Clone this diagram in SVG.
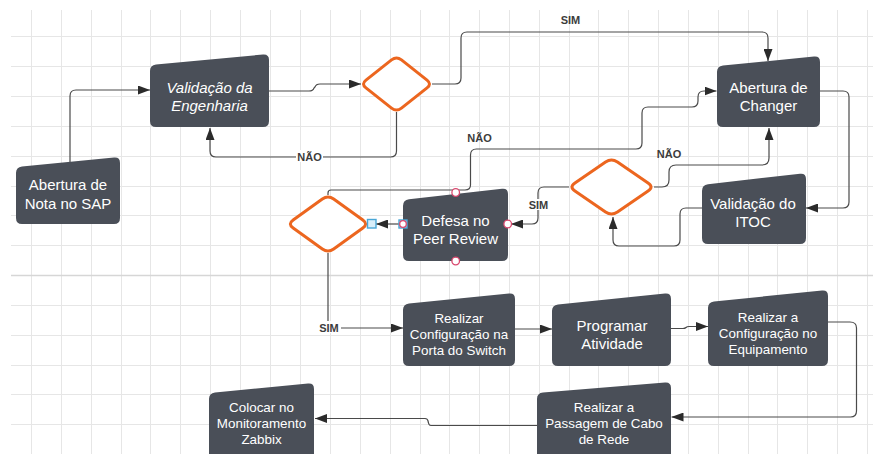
<svg xmlns="http://www.w3.org/2000/svg" width="873" height="454" viewBox="0 0 873 454">
  <defs>
    <style>
      .grid { stroke: #e6e6e6; stroke-width: 1; fill: none; }
      .grid-major { stroke: #d6d6d6; stroke-width: 1.6; fill: none; }
      .node { fill: #4a4f58; }
      .decision { fill: #ffffff; stroke: #ec661f; stroke-width: 3; stroke-linejoin: round; }
      .txt { fill: #ffffff; font-family: "Liberation Sans", Arial, sans-serif; text-anchor: middle; }
      .t15 { font-size: 15px; }
      .t13 { font-size: 13.4px; }
      .edge { fill: none; stroke: #4a4a4a; stroke-width: 1.2; marker-end: url(#arrow); }
      .lbl { fill: #3c3c3c; font-family: "Liberation Sans", Arial, sans-serif; font-weight: bold; font-size: 11px; text-anchor: middle; }
      .lbl-bg { fill: #ffffff; }
      .port { fill: #ffffff; stroke: #d9486e; stroke-width: 1.3; }
      .sel { fill: #d8eef9; stroke: #49a6d6; stroke-width: 1.4; }
    </style>
    <marker id="arrow" viewBox="0 0 12 9" refX="12" refY="4.5" markerWidth="12" markerHeight="9" markerUnits="userSpaceOnUse" orient="auto">
      <path d="M0,0 L12,4.5 L0,9 Z" fill="#2b2b2b"/>
    </marker>
  </defs>

  <rect x="0" y="0" width="873" height="454" fill="#ffffff"/>

  <!-- background grid -->
  <g id="grid">
    <path class="grid" d="M31.5,10V454 M61.5,10V454 M91.5,10V454 M121.5,10V454 M150.5,10V454 M180.5,10V454 M210.5,10V454 M240.5,10V454 M270.5,10V454 M300.5,10V454 M330.5,10V454 M360.5,10V454 M390.5,10V454 M420.5,10V454 M449.5,10V454 M479.5,10V454 M509.5,10V454 M539.5,10V454 M569.5,10V454 M598.5,10V454 M628.5,10V454 M658.5,10V454 M688.5,10V454 M718.5,10V454 M748.5,10V454 M777.5,10V454 M807.5,10V454 M837.5,10V454 M867.5,10V454"/>
    <path class="grid" d="M11,36.5H873 M11,66.5H873 M11,96.5H873 M11,126.5H873 M11,156.5H873 M11,186.5H873 M11,215.5H873 M11,245.5H873 M11,305.5H873 M11,335.5H873 M11,365.5H873 M11,394.5H873 M11,424.5H873"/>
    <path class="grid-major" d="M11,275.5H873"/>
  </g>

  <!-- connectors -->
  <g id="connectors">
    <path class="edge" d="M70,162 L70,96 Q70,90 76,90 L150,90"/>
    <path class="edge" d="M269,91 L309,91 Q313,91 314,88 L315,87 Q316,84 320,84 L361,84"/>
    <path class="edge" d="M432,84 L455,84 Q461,84 461,78 L461,38 Q461,32 467,32 L762,32 Q768,32 768,38 L768,61"/>
    <path class="edge" d="M396.5,112 L396.5,151 Q396.5,157 390.5,157 L216,157 Q210,157 210,151 L210,128"/>
    <path class="edge" d="M328,195 L328,193 Q328,190 331,190 L465,190 Q470.5,190 470.5,185 L470.5,155 Q470.5,149 476.5,149 L636,149 Q642,149 642,143 L642,113 Q642,107 648,107 L692,107 Q698,107 698,101 L698,97 Q698,91 704,91 L716.5,91"/>
    <path class="edge" d="M654,187 L662,187 Q669,187 669,180 L669,172 Q669,165 676,165 L762,165 Q769,165 769,158 L769,128"/>
    <path class="edge" d="M820,91 L843,91 Q849,91 849,97 L849,202 Q849,208 843,208 L806,208"/>
    <path class="edge" d="M702,208 L686,208 Q680,208 680,214 L680,240 Q680,246 674,246 L619,246 Q613,246 613,240 L613,217"/>
    <path class="edge" d="M569,187 L544,187 Q538,187 538,193 L538,218 Q538,224 532,224 L511,224"/>
    <path class="edge" d="M403,224 L376,224"/>
    <path class="edge" d="M328,253 L328,322 Q328,328 334,328 L403,328"/>
    <path class="edge" d="M515,329 L552,329"/>
    <path class="edge" d="M671,328.5 L683,328.5 Q685,328.5 686,327.5 Q687,326.5 689,326.5 L708,326.5"/>
    <path class="edge" d="M828,322 L850,322 Q856.5,322 856.5,328 L856.5,411 Q856.5,417 850.5,417 L671.5,417"/>
    <path class="edge" d="M537,425.5 L431,425.5 Q429,425.5 428.5,423 L428,421 Q427.5,418.5 425,418.5 L315,418.5"/>

    <!-- connector labels -->
    <text class="lbl" x="570.5" y="24">SIM</text>
    <rect class="lbl-bg" x="296" y="150" width="27" height="12"/>
    <text class="lbl" x="309.5" y="160.5">NÃO</text>
    <text class="lbl" x="479.5" y="142">NÃO</text>
    <text class="lbl" x="669" y="157.5">NÃO</text>
    <rect class="lbl-bg" x="527" y="199" width="23" height="11"/>
    <text class="lbl" x="538.5" y="208.5">SIM</text>
    <rect class="lbl-bg" x="317" y="321" width="24" height="12"/>
    <text class="lbl" x="329" y="332">SIM</text>
  </g>

  <!-- process steps -->
  <g id="validacao-engenharia">
    <path class="node" d="M150,71 Q150,65 156,64.4 L263,54.5 Q269,54 269,60 L269,121 Q269,127 263,127 L156,127 Q150,127 150,121 Z"/>
    <text class="txt t15" font-style="italic" x="209.5" y="93">Validação da</text>
    <text class="txt t15" font-style="italic" x="209.5" y="111">Engenharia</text>
  </g>

  <g id="abertura-nota-sap">
    <path class="node" d="M16,173 Q16,167 22,166.4 L114,157.6 Q120,157 120,163 L120,218 Q120,224 114,224 L22,224 Q16,224 16,218 Z"/>
    <text class="txt t15" x="68" y="190">Abertura de</text>
    <text class="txt t15" x="68" y="208.5">Nota no SAP</text>
  </g>

  <g id="abertura-changer">
    <path class="node" d="M717,72 Q717,66 723,65.4 L814,56.6 Q820,56 820,62 L820,121 Q820,127 814,127 L723,127 Q717,127 717,121 Z"/>
    <text class="txt t15" x="768.5" y="92.5">Abertura de</text>
    <text class="txt t15" x="768.5" y="110.5">Changer</text>
  </g>

  <g id="validacao-itoc">
    <path class="node" d="M702,191 Q702,185 708,184.3 L800,173.7 Q806,173 806,179 L806,238 Q806,244 800,244 L708,244 Q702,244 702,238 Z"/>
    <text class="txt t15" x="753" y="208.5">Validação do</text>
    <text class="txt t15" x="753" y="227">ITOC</text>
  </g>

  <g id="defesa-peer-review">
    <path class="node" d="M403,206 Q403,200 409,199.3 L502,188.7 Q508,188 508,194 L508,255 Q508,261 502,261 L409,261 Q403,261 403,255 Z"/>
    <text class="txt t15" x="455.5" y="225.7">Defesa no</text>
    <text class="txt t15" x="455.5" y="243.5">Peer Review</text>
    <circle class="port" cx="455.7" cy="192.5" r="3.8"/>
    <circle class="port" cx="455.7" cy="261" r="3.8"/>
    <circle class="port" cx="507.7" cy="224" r="3.8"/>
    <rect class="sel" x="399" y="220" width="8" height="8"/>
    <circle class="port" cx="403" cy="224" r="3.3"/>
  </g>

  <g id="config-porta-switch">
    <path class="node" d="M403,310 Q403,304 409,303.4 L509,293.6 Q515,293 515,299 L515,360 Q515,366 509,366 L409,366 Q403,366 403,360 Z"/>
    <text class="txt t13" x="459" y="322.7">Realizar</text>
    <text class="txt t13" x="459" y="339">Configuração na</text>
    <text class="txt t13" x="459" y="355">Porta do Switch</text>
  </g>

  <g id="programar-atividade">
    <path class="node" d="M552,311 Q552,305 558,304.4 L665,293.6 Q671,293 671,299 L671,360 Q671,366 665,366 L558,366 Q552,366 552,360 Z"/>
    <text class="txt t15" x="612" y="330.5">Programar</text>
    <text class="txt t15" x="612" y="348.5">Atividade</text>
  </g>

  <g id="config-equipamento">
    <path class="node" d="M708,308 Q708,302 714,301.4 L822,290.6 Q828,290 828,296 L828,360 Q828,366 822,366 L714,366 Q708,366 708,360 Z"/>
    <text class="txt t13" x="768" y="321.7">Realizar a</text>
    <text class="txt t13" x="768" y="338.3">Configuração no</text>
    <text class="txt t13" x="768" y="354">Equipamento</text>
  </g>

  <g id="passagem-cabo">
    <path class="node" d="M537,399 Q537,393 543,392.5 L665,382.5 Q671,382 671,388 L671,456 Q671,462 665,462 L543,462 Q537,462 537,456 Z"/>
    <text class="txt t13" x="604" y="412">Realizar a</text>
    <text class="txt t13" x="604" y="428.3">Passagem de Cabo</text>
    <text class="txt t13" x="604" y="444">de Rede</text>
  </g>

  <g id="monitoramento-zabbix">
    <path class="node" d="M209,399 Q209,393 215,392.4 L308,383.6 Q314,383 314,389 L314,456 Q314,462 308,462 L215,462 Q209,462 209,456 Z"/>
    <text class="txt t13" x="261.5" y="412">Colocar no</text>
    <text class="txt t13" x="261.5" y="428.3">Monitoramento</text>
    <text class="txt t13" x="261.5" y="444">Zabbix</text>
  </g>

  <!-- decisions -->
  <g id="decisao-engenharia">
    <path class="decision" d="M401.47,59.92 L427.03,80.08 Q432,84 427.03,87.92 L401.47,108.08 Q396.5,112 391.53,108.08 L365.97,87.92 Q361,84 365.97,80.08 L391.53,59.92 Q396.5,56 401.47,59.92 Z"/>
  </g>

  <g id="decisao-peer-review">
    <path class="decision" d="M333.67,199.06 L362.83,219.94 Q368.5,224 362.83,228.06 L333.67,248.94 Q328,253 322.33,248.94 L293.17,228.06 Q287.5,224 293.17,219.94 L322.33,199.06 Q328,195 333.67,199.06 Z"/>
    <rect class="sel" x="367.5" y="219.5" width="8.5" height="8.5"/>
  </g>

  <g id="decisao-itoc">
    <path class="decision" d="M617.45,162.06 L648.05,182.94 Q654,187 648.05,191.06 L617.45,211.94 Q611.5,216 605.55,211.94 L574.95,191.06 Q569,187 574.95,182.94 L605.55,162.06 Q611.5,158 617.45,162.06 Z"/>
  </g>
</svg>
